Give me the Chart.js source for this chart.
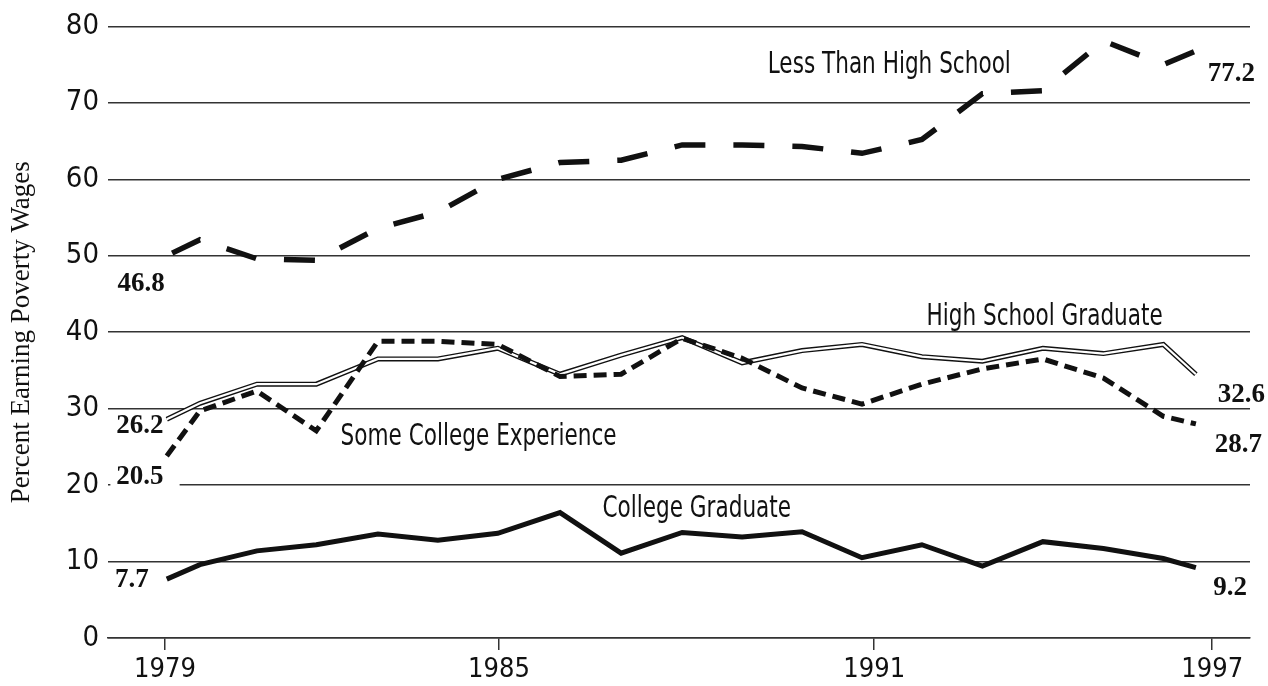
<!DOCTYPE html>
<html>
<head>
<meta charset="utf-8">
<script src="https://cdn.jsdelivr.net/npm/chart.js@4/dist/chart.umd.min.js"></script>
<style>
  html, body { margin: 0; padding: 0; background: #fff; }
  #wrap { width: 1268px; height: 686px; }
</style>
</head>
<body>
<div id="wrap"><canvas id="povertyChart" width="1268" height="686"></canvas></div>
<script>
// plot positions of each yearly point (in axis years)
const years = [1979.03, 1979.60, 1980.58, 1981.60, 1982.66, 1983.69, 1984.72, 1985.79, 1986.84, 1987.89,
               1988.92, 1989.95, 1990.98, 1992.01, 1993.05, 1994.09, 1995.13, 1996.16, 1996.72];

const lessThanHighSchool = [50.0, 52.1, 49.6, 49.4, 53.6, 55.7, 60.0, 62.2, 62.5, 64.5,
                            64.5, 64.3, 63.4, 65.2, 71.2, 71.6, 78.1, 75.0, 76.8];
const highSchoolGrad     = [28.6, 30.7, 33.2, 33.2, 36.5, 36.5, 37.9, 34.5, 37.0, 39.3,
                            36.0, 37.6, 38.4, 36.8, 36.2, 37.9, 37.2, 38.4, 34.5];
const someCollege        = [23.8, 29.7, 32.3, 27.1, 38.8, 38.8, 38.4, 34.2, 34.5, 39.2,
                            36.6, 32.7, 30.6, 33.2, 35.2, 36.5, 34.0, 29.0, 28.0];
const collegeGrad        = [7.7, 9.6, 11.4, 12.2, 13.6, 12.8, 13.7, 16.4, 11.1, 13.8,
                            13.2, 13.9, 10.5, 12.2, 9.4, 12.6, 11.7, 10.4, 9.2];

// year ticks as placed on the original axis
const tickYears  = [1979, 1984.74, 1991.19, 1997];
const tickLabels = ['1979', '1985', '1991', '1997'];
const yTicks = [0, 10, 20, 30, 40, 50, 60, 70, 80];

const seriesNames = ['Less Than High School', 'High School Graduate', 'Some College Experience', 'College Graduate'];
const startLabels = ['46.8', '26.2', '20.5', '7.7'];
const endLabels   = ['77.2', '32.6', '28.7', '9.2'];

const SANS = '"DejaVu Sans Condensed", "Liberation Sans Narrow", sans-serif';
const SERIF = '"Liberation Serif", "DejaVu Serif", serif';
const INK = '#111';

function pts(vals) {
    return years.map((x, i) => ({ x: x, y: vals[i] }));
}

// text placed in data coordinates; sx squeezes the sans labels to a condensed look
const notes = [
    { text: seriesNames[0], x: 1991.45, y: 74.9, font: '30px ' + SANS, sx: 0.8 },
    { text: seriesNames[1], x: 1994.12, y: 41.9, font: '30px ' + SANS, sx: 0.8 },
    { text: seriesNames[2], x: 1984.39, y: 26.2, font: '30px ' + SANS, sx: 0.8 },
    { text: seriesNames[3], x: 1988.14, y: 16.8, font: '30px ' + SANS, sx: 0.8 },
    { text: startLabels[0], x: 1978.59, y: 46.35, font: 'bold 27px ' + SERIF },
    { text: startLabels[1], x: 1978.57, y: 27.7, font: 'bold 27px ' + SERIF },
    { text: startLabels[2], x: 1978.57, y: 21.1, font: 'bold 27px ' + SERIF, bg: true },
    { text: startLabels[3], x: 1978.43, y: 7.55, font: 'bold 27px ' + SERIF },
    { text: endLabels[0], x: 1997.33, y: 73.8, font: 'bold 27px ' + SERIF },
    { text: endLabels[1], x: 1997.50, y: 31.8, font: 'bold 27px ' + SERIF },
    { text: endLabels[2], x: 1997.45, y: 25.3, font: 'bold 27px ' + SERIF },
    { text: endLabels[3], x: 1997.31, y: 6.6, font: 'bold 27px ' + SERIF }
];

const notesPlugin = {
    id: 'notes',
    afterDatasetsDraw(chart) {
        const ctx = chart.ctx;
        const xs = chart.scales.x, ys = chart.scales.y;
        notes.forEach(n => {
            const px = xs.getPixelForValue(n.x);
            const py = ys.getPixelForValue(n.y);
            ctx.save();
            ctx.font = n.font;
            ctx.textAlign = 'center';
            ctx.textBaseline = 'middle';
            if (n.bg) {
                const w = ctx.measureText(n.text).width;
                ctx.fillStyle = '#fff';
                ctx.fillRect(px - w / 2 - 6, py - 12, w + 22, 24);
            }
            ctx.translate(px, py);
            ctx.scale(n.sx || 1, 1);
            ctx.fillStyle = INK;
            ctx.fillText(n.text, 0, 0);
            ctx.restore();
        });
    }
};

// lower order is painted later (on top)
new Chart(document.getElementById('povertyChart').getContext('2d'), {
    type: 'line',
    data: {
        datasets: [
            {
                label: seriesNames[0],
                data: pts(lessThanHighSchool),
                order: 4,
                borderColor: INK,
                borderWidth: 5.5,
                borderDash: [31, 28],
                borderDashOffset: 53,
                borderCapStyle: 'butt',
                borderJoinStyle: 'miter'
            },
            {
                label: seriesNames[1],
                data: pts(highSchoolGrad),
                order: 3,
                borderColor: INK,
                borderWidth: 5,
                borderJoinStyle: 'miter'
            },
            {
                label: seriesNames[1] + ' (inner)',
                data: pts(highSchoolGrad),
                order: 2,
                borderColor: '#fff',
                borderWidth: 2.2,
                borderJoinStyle: 'miter'
            },
            {
                label: seriesNames[2],
                data: pts(someCollege),
                order: 0,
                borderColor: INK,
                borderWidth: 5,
                borderDash: [13, 7],
                borderCapStyle: 'butt',
                borderJoinStyle: 'miter'
            },
            {
                label: seriesNames[3],
                data: pts(collegeGrad),
                order: 1,
                borderColor: INK,
                borderWidth: 5,
                borderJoinStyle: 'miter'
            }
        ]
    },
    options: {
        responsive: false,
        animation: false,
        elements: { point: { radius: 0 }, line: { tension: 0 } },
        layout: { padding: { top: 24, right: 18, left: 0, bottom: 0 } },
        plugins: { legend: { display: false }, tooltip: { enabled: false } },
        scales: {
            x: {
                type: 'linear',
                min: 1978.02,
                max: 1997.65,
                afterBuildTicks: s => { s.ticks = tickYears.map(v => ({ value: v })); },
                afterFit: s => { s.height = 48; },
                ticks: {
                    autoSkip: false,
                    maxRotation: 0,
                    padding: 4,
                    color: INK,
                    font: { family: SANS, size: 27 },
                    callback: (v, i) => tickLabels[i]
                },
                grid: { drawOnChartArea: false, drawTicks: true, tickLength: 12, color: '#333', lineWidth: 1.5 },
                border: { display: true, color: '#333', width: 1.5 }
            },
            y: {
                min: 0,
                max: 80,
                afterBuildTicks: s => { s.ticks = yTicks.map(v => ({ value: v })); },
                afterFit: s => { s.width = 108; },
                ticks: {
                    padding: 9,
                    color: INK,
                    font: { family: SANS, size: 29 }
                },
                grid: { drawTicks: false, color: '#333', lineWidth: 1.5 },
                border: { display: false },
                title: {
                    display: true,
                    text: 'Percent Earning Poverty Wages',
                    color: INK,
                    font: { family: SERIF, size: 27 },
                    padding: { top: 6, bottom: 0 }
                }
            }
        }
    },
    plugins: [notesPlugin]
});
</script>
</body>
</html>
